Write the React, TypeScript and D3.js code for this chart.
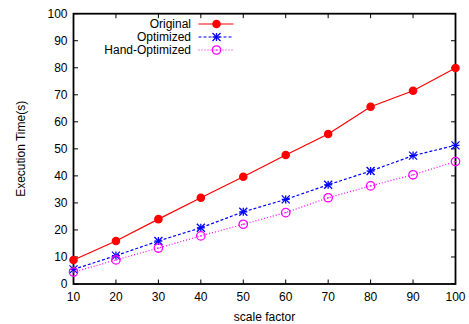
import React from "react";
import * as d3 from "d3";

const scaleFactors = [10, 20, 30, 40, 50, 60, 70, 80, 90, 100];
const original = [8.9, 15.9, 24.0, 31.9, 39.7, 47.7, 55.5, 65.6, 71.5, 79.9];
const optimized = [5.4, 10.5, 15.9, 20.8, 26.7, 31.3, 36.7, 41.8, 47.5, 51.3];
const handOptimized = [4.4, 8.9, 13.3, 17.8, 22.1, 26.4, 31.9, 36.3, 40.4, 45.3];
const xTicks = [10, 20, 30, 40, 50, 60, 70, 80, 90, 100];
const yTicks = [0, 10, 20, 30, 40, 50, 60, 70, 80, 90, 100];
const seriesNames = ["Original", "Optimized", "Hand-Optimized"];

const W = 469, H = 324;
const L = 73.5, R = 455.5, T = 13.7, B = 284;
const FONT = "'Liberation Sans', Arial, sans-serif";

function Marker({ kind, x, y, color }: { kind: number; x: number; y: number; color: string }) {
  if (kind === 0) return <circle cx={x} cy={y} r={4.3} fill={color} />;
  if (kind === 1) {
    const s = 4;
    return (
      <g stroke={color} strokeWidth={1.3}>
        <line x1={x - s} y1={y} x2={x + s} y2={y} />
        <line x1={x} y1={y - s} x2={x} y2={y + s} />
        <line x1={x - s} y1={y - s} x2={x + s} y2={y + s} />
        <line x1={x - s} y1={y + s} x2={x + s} y2={y - s} />
      </g>
    );
  }
  return (
    <g>
      <circle cx={x} cy={y} r={4.2} fill="none" stroke={color} strokeWidth={1.3} />
      <line x1={x - 1} y1={y} x2={x + 1} y2={y} stroke={color} strokeWidth={1} />
    </g>
  );
}

export default function App() {
  const x = d3.scaleLinear().domain([10, 100]).range([L, R]);
  const y = d3.scaleLinear().domain([0, 100]).range([B, T]);
  const line = d3.line<number>().x((_, i) => x(scaleFactors[i])).y((d) => y(d));
  const series = [original, optimized, handOptimized];
  const colors = ["#ff0000", "#0000ff", "#ff00ff"];
  const dashes = [undefined, "3,2", "1,2"];
  const tl = 4.5;
  const legendRows = [24, 37, 50];
  return (
    <svg width={W} height={H} style={{ position: "absolute", left: 0, top: 0, background: "#fff" }} fontFamily={FONT}>
      <rect width={W} height={H} fill="#fff" />
      {/* ticks */}
      {xTicks.map((t) => (
        <g key={"x" + t}>
          <line x1={x(t)} x2={x(t)} y1={B} y2={B - tl} stroke="#000" />
          <line x1={x(t)} x2={x(t)} y1={T} y2={T + tl} stroke="#000" />
          <text x={x(t)} y={301} fontSize={12} textAnchor="middle" fill="#000">{t}</text>
        </g>
      ))}
      {yTicks.map((t) => (
        <g key={"y" + t}>
          <line x1={L} x2={L + tl} y1={y(t)} y2={y(t)} stroke="#000" />
          <line x1={R} x2={R - tl} y1={y(t)} y2={y(t)} stroke="#000" />
          <text x={L - 6} y={y(t) + 4.3} fontSize={12} textAnchor="end" fill="#000">{t}</text>
        </g>
      ))}
      <rect x={L} y={T} width={R - L} height={B - T} fill="none" stroke="#000" strokeWidth={1.8} />
      <text x={(L + R) / 2} y={321} fontSize={12} textAnchor="middle" fill="#000">scale factor</text>
      <text transform={`translate(24.5,${(T + B) / 2}) rotate(-90)`} fontSize={12} textAnchor="middle" fill="#000">Execution Time(s)</text>
      {series.map((s, k) => (
        <g key={"s" + k}>
          <path d={line(s) || ""} fill="none" stroke={colors[k]} strokeWidth={1.2} strokeDasharray={dashes[k]} />
          {s.map((v, i) => (
            <Marker key={i} kind={k} x={x(scaleFactors[i])} y={y(v)} color={colors[k]} />
          ))}
        </g>
      ))}
      {seriesNames.map((n, k) => (
        <g key={"l" + k}>
          <text x={191} y={legendRows[k] + 4.3} fontSize={12} textAnchor="end" fill="#000">{n}</text>
          <line x1={198.5} x2={233.5} y1={legendRows[k]} y2={legendRows[k]} stroke={colors[k]} strokeWidth={1.2} strokeDasharray={dashes[k]} />
          <Marker kind={k} x={216.5} y={legendRows[k]} color={colors[k]} />
        </g>
      ))}
    </svg>
  );
}
